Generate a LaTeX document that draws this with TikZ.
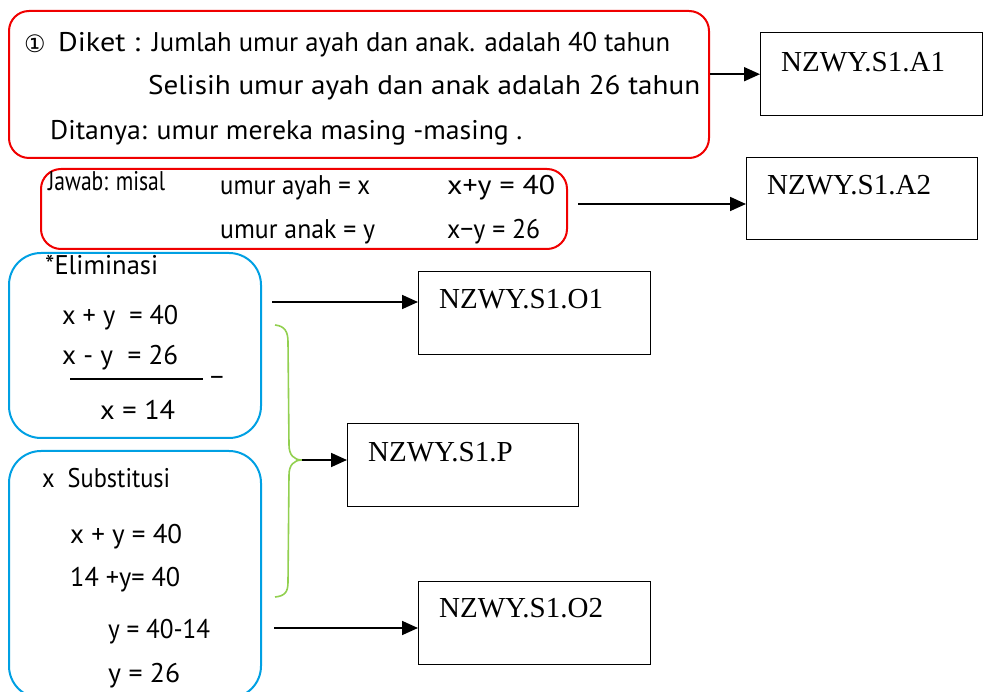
\documentclass[tikz,border=0pt]{standalone}
\usepackage{fontspec}
\usepackage{graphicx}
\setmainfont{Liberation Serif}
\newfontfamily\hwfamily{PT Sans}
\newfontfamily\symfamily{DejaVu Sans}
\usetikzlibrary{arrows.meta}
\definecolor{redbox}{RGB}{240,0,0}
\definecolor{bluebox}{RGB}{0,160,227}
\definecolor{bracegreen}{RGB}{146,208,80}
\newcommand\hw[2]{\resizebox{#1pt}{\height}{#2}}
\begin{document}
\begin{tikzpicture}[x=1pt,y=-1pt,
  redframe/.style={draw=redbox, line width=2pt, rounded corners=20pt, anchor=north west, inner sep=0pt},
  blueframe/.style={draw=bluebox, line width=2pt, rounded corners=32pt, anchor=north west, inner sep=0pt},
  codebox/.style={draw, line width=1.4pt, anchor=north west, inner sep=0pt},
  codetext/.style={anchor=base west, font=\fontsize{29}{32}\selectfont, inner sep=0pt},
  hand/.style={anchor=west, inner sep=0pt, font=\hwfamily\fontsize{27}{30}\selectfont},
  conn/.style={line width=1.8pt, -{Triangle[length=16pt,width=14pt]}},
  bracepath/.style={draw=bracegreen, line width=1.6pt},
]
\useasboundingbox (0,0) rectangle (983,692);

% frames
\node[redframe, minimum width=700pt, minimum height=147pt] (r1) at (8,10) {};
\node[redframe, minimum width=526pt, minimum height=80pt] (r2) at (40,168) {};
\node[blueframe, minimum width=252pt, minimum height=185pt] (b1) at (8,252) {};
\node[blueframe, minimum width=252pt, minimum height=247pt] (b2) at (8,450) {};

% code boxes
\node[codebox, minimum width=222pt, minimum height=83pt,
  label={[codetext, xshift=21pt, yshift=-40pt]north west:NZWY.S1.A1}] (a1) at (760,32) {};
\node[codebox, minimum width=231pt, minimum height=82pt,
  label={[codetext, xshift=21pt, yshift=-38pt]north west:NZWY.S1.A2}] (a2) at (746,157) {};
\node[codebox, minimum width=232pt, minimum height=83pt,
  label={[codetext, xshift=21pt, yshift=-38pt]north west:NZWY.S1.O1}] (o1) at (418,271) {};
\node[codebox, minimum width=231pt, minimum height=83pt,
  label={[codetext, xshift=21pt, yshift=-38pt]north west:NZWY.S1.P}] (p) at (347,423) {};
\node[codebox, minimum width=232pt, minimum height=83pt,
  label={[codetext, xshift=21pt, yshift=-36pt]north west:NZWY.S1.O2}] (o2) at (418,581) {};

% handwriting, box 1
\node[hand] (h0) at (24,44) {\symfamily\fontsize{24}{26}\selectfont ①};
\node[hand] (h1) at (58,42) {\hw{82}{Diket :}};
\node[hand] (h2) at (152,45) {\hw{518}{Jumlah umur ayah dan anak. adalah 40 tahun}};
\node[hand] (h3) at (148,88) {\hw{552}{Selisih umur ayah dan anak adalah 26 tahun}};
\node[hand] (h4) at (50,133) {\hw{472}{Ditanya: umur mereka masing -masing .}};

% handwriting, box 2
\node[hand] (h5) at (48,181) {\hw{117}{Jawab: misal}};
\node[hand] (h6) at (220,188) {\hw{150}{umur ayah = x}};
\node[hand] (h7) at (447,188) {\hw{108}{x+y = 40}};
\node[hand] (h8) at (220,232) {\hw{155}{umur anak = y}};
\node[hand] (h9) at (447,232) {\hw{93}{x−y = 26}};

% handwriting, elimination
\node[hand] (e0) at (45,265) {\hw{113}{*Eliminasi}};
\node[hand] (e1) at (62,318) {\hw{116}{x + y \ = 40}};
\node[hand] (e2) at (62,358) {\hw{116}{x - y \ = 26}};
\draw[line width=1.6pt] (70,379) -- (203,379);
\node[hand] (e3) at (210,381) {−};
\node[hand] (e4) at (100,410) {\hw{75}{x = 14}};

% handwriting, substitution
\node[hand] (s0) at (42,478) {\hw{128}{x \ Substitusi}};
\node[hand] (s1) at (70,537) {\hw{112}{x + y = 40}};
\node[hand] (s2t) at (70,580) {\hw{110}{14 +y= 40}};
\node[hand] (s3t) at (108,632) {\hw{102}{y = 40-14}};
\node[hand] (s4t) at (108,676) {\hw{72}{y = 26}};

% brace
\coordinate (bt) at (302,460);
\draw[bracepath] (275,325) .. controls (285,326) and (288,332) .. (288,342)
  -- (289,445) .. controls (289,455) and (294,460) .. (bt)
  .. controls (294,460) and (289,465) .. (289,475)
  -- (288,582) .. controls (288,592) and (285,596) .. (275,597);

% connectors
\coordinate (c2) at (578,204);
\coordinate (c3) at (272,302);
\coordinate (c4) at (274,628);
\draw[conn] (r1.east |- a1.west) -- (a1.west);
\draw[conn] (c2) -- (c2 -| a2.west);
\draw[conn] (c3) -- (c3 -| o1.west);
\draw[conn] (bt) -- (bt -| p.west);
\draw[conn] (c4) -- (c4 -| o2.west);
\end{tikzpicture}
\end{document}
